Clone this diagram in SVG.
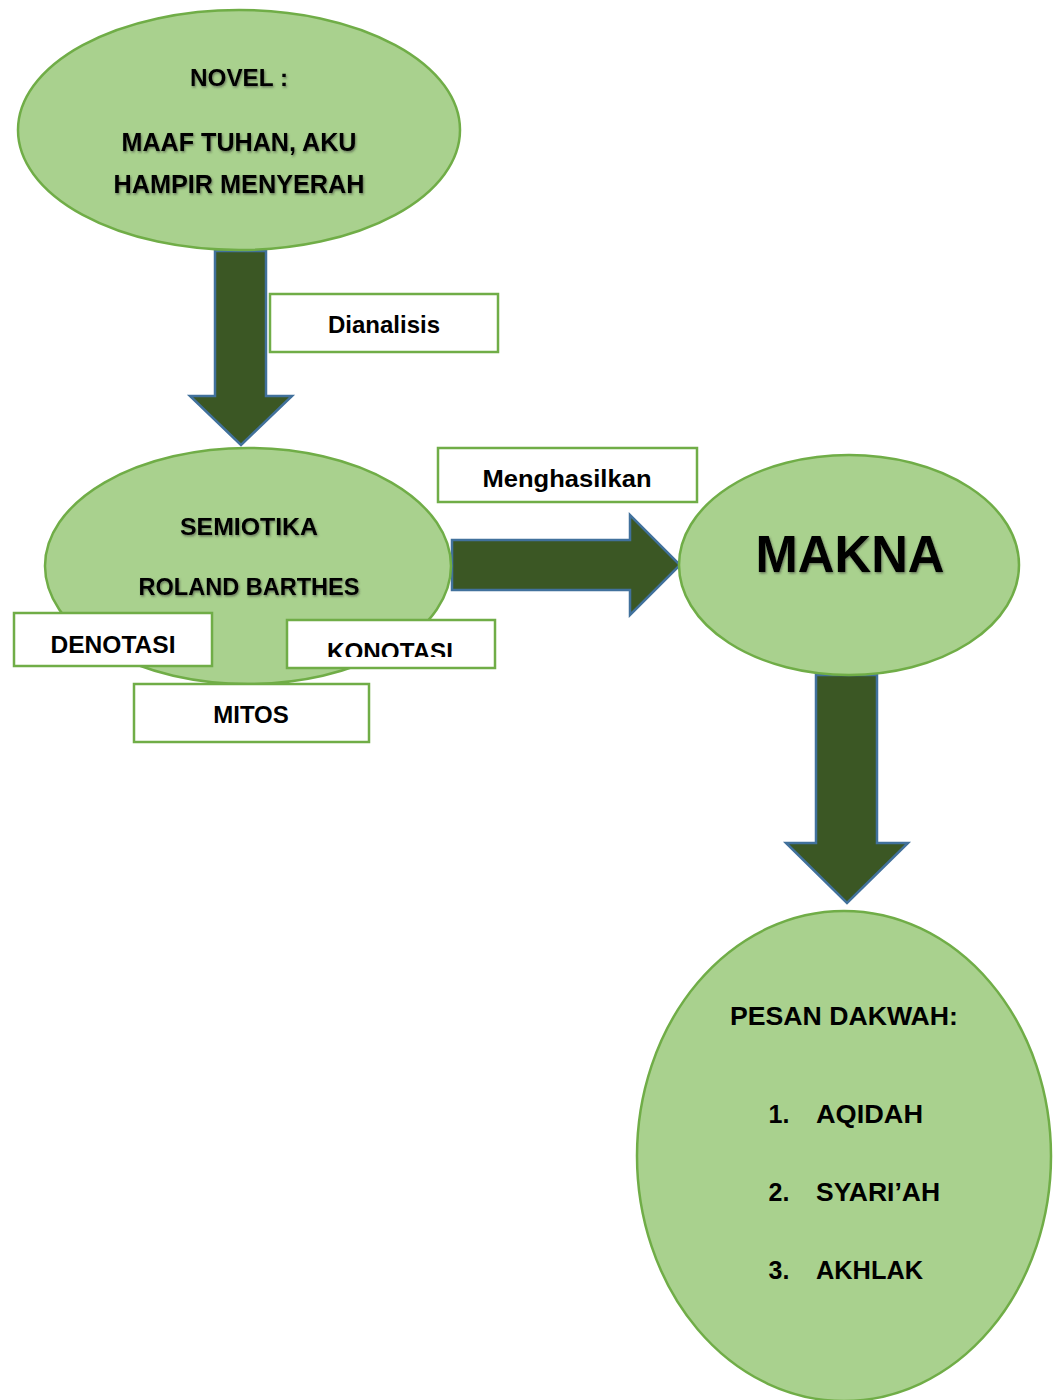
<svg xmlns="http://www.w3.org/2000/svg" width="1061" height="1400" viewBox="0 0 1061 1400">
<style>
.ell{fill:#a9d18e;stroke:#70ad47;stroke-width:2.5}
.box{fill:#ffffff;stroke:#70ad47;stroke-width:2.5}
.arrow{fill:#3b5724;stroke:#41719c;stroke-width:2.5;stroke-linejoin:miter}
.t{font-family:"Liberation Sans",Arial,sans-serif;font-weight:bold;fill:#000;text-anchor:middle}
.sh{filter:url(#shadow)}
</style>
<defs>
<filter id="shadow" x="-10%" y="-30%" width="120%" height="160%">
<feDropShadow dx="1" dy="1.5" stdDeviation="1.2" flood-color="#333" flood-opacity="0.55"/>
</filter>
<clipPath id="konClip"><rect x="288" y="621" width="206" height="36"/></clipPath>
</defs>
<rect width="1061" height="1400" fill="#ffffff"/>

<g id="connectors">
<path class="arrow" d="M215,251 H266 V396 H292 L241,445 L190,396 H215 Z"/>
<path class="arrow" d="M452,540 H630 V515 L680,565 L630,615 V590 H452 Z"/>
<path class="arrow" d="M816,675 H877 V843 H908 L847,903 L786,843 H816 Z"/>
</g>

<g id="novel">
<ellipse class="ell" cx="239" cy="130" rx="221" ry="120"/>
<g class="sh">
<text class="t" x="239" y="86" font-size="24" textLength="98" lengthAdjust="spacingAndGlyphs">NOVEL :</text>
<text class="t" x="239" y="151" font-size="25" textLength="235" lengthAdjust="spacingAndGlyphs">MAAF TUHAN, AKU</text>
<text class="t" x="239" y="193" font-size="25" textLength="251" lengthAdjust="spacingAndGlyphs">HAMPIR MENYERAH</text>
</g>
</g>

<g id="dianalisis">
<rect class="box" x="270" y="294" width="228" height="58"/>
<text class="t" x="384" y="333" font-size="24">Dianalisis</text>
</g>

<g id="semiotika">
<ellipse class="ell" cx="248" cy="566" rx="203" ry="118"/>
<g class="sh">
<text class="t" x="249" y="535" font-size="23" textLength="138" lengthAdjust="spacingAndGlyphs">SEMIOTIKA</text>
<text class="t" x="249" y="595" font-size="23" textLength="221" lengthAdjust="spacingAndGlyphs">ROLAND BARTHES</text>
</g>
</g>

<g id="menghasilkan">
<rect class="box" x="438" y="448" width="259" height="54"/>
<text class="t" x="567" y="487" font-size="24" textLength="169" lengthAdjust="spacingAndGlyphs">Menghasilkan</text>
</g>

<g id="denotasi">
<rect class="box" x="14" y="613" width="198" height="53"/>
<text class="t" x="113" y="653" font-size="24" textLength="125" lengthAdjust="spacingAndGlyphs">DENOTASI</text>
</g>

<g id="konotasi">
<rect class="box" x="287" y="620" width="208" height="48"/>
<text class="t" x="390" y="660" font-size="24" textLength="126" lengthAdjust="spacingAndGlyphs" clip-path="url(#konClip)">KONOTASI</text>
</g>

<g id="mitos">
<rect class="box" x="134" y="684" width="235" height="58"/>
<text class="t" x="251" y="723" font-size="24">MITOS</text>
</g>

<g id="makna">
<ellipse class="ell" cx="849" cy="565" rx="170" ry="110"/>
<text class="t sh" x="850" y="572" font-size="52" textLength="189" lengthAdjust="spacingAndGlyphs">MAKNA</text>
</g>

<g id="pesan">
<ellipse class="ell" cx="844" cy="1156" rx="207" ry="245"/>
<text class="t" x="844" y="1025" font-size="25" textLength="228" lengthAdjust="spacingAndGlyphs">PESAN DAKWAH:</text>
<text class="t" x="779" y="1123" font-size="25">1.</text>
<text class="t" x="816" y="1123" font-size="25" style="text-anchor:start" textLength="107" lengthAdjust="spacingAndGlyphs">AQIDAH</text>
<text class="t" x="779" y="1201" font-size="25">2.</text>
<text class="t" x="816" y="1201" font-size="25" style="text-anchor:start" textLength="124" lengthAdjust="spacingAndGlyphs">SYARI’AH</text>
<text class="t" x="779" y="1279" font-size="25">3.</text>
<text class="t" x="816" y="1279" font-size="25" style="text-anchor:start" textLength="107" lengthAdjust="spacingAndGlyphs">AKHLAK</text>
</g>
</svg>
